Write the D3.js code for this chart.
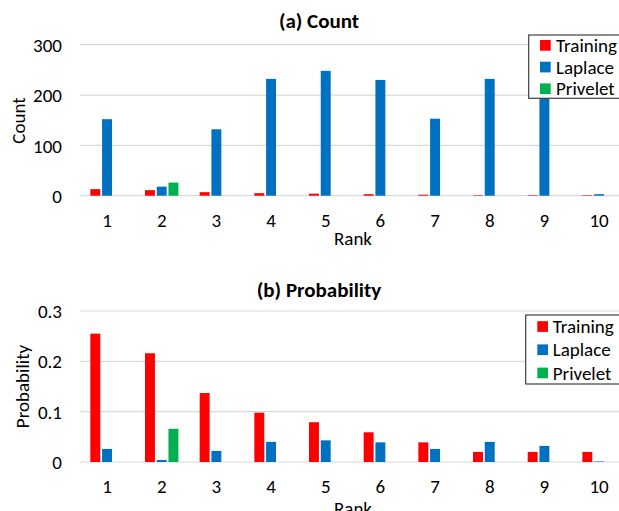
<!DOCTYPE html>
<html><head><meta charset="utf-8">
<script src="https://cdn.jsdelivr.net/npm/d3@7"></script>
<style>
html,body{margin:0;padding:0;background:#fff;overflow:hidden}
text{font-family:Carlito,Calibri,Lato,sans-serif;fill:#000}
</style></head>
<body>
<svg id="chart" width="619" height="511"></svg>
<script>
const ranks = ["1","2","3","4","5","6","7","8","9","10"];
const seriesNames = ["Training","Laplace","Privelet"];
const colors = ["#ff0000","#0070c0","#00b050"];

// (a) Count
const countTraining = [13,11,7,5,4,3,2,1,1,1];
const countLaplace  = [152,18,132,232,248,230,153,232,197,3];
const countPrivelet = [0,26,0,0,0,0,0,0,0,0];
const countTicks = [0,100,200,300];

// (b) Probability
const probTraining = [0.255,0.216,0.137,0.098,0.079,0.059,0.039,0.020,0.020,0.020];
const probLaplace  = [0.026,0.004,0.022,0.040,0.043,0.039,0.026,0.040,0.032,0.001];
const probPrivelet = [0,0.066,0,0,0,0,0,0,0,0];
const probTicks = [0,0.1,0.2,0.3];

const svg = d3.select("#chart");
const FS = 19;
const FT = 21;

const x0 = d3.scaleBand().domain(ranks).range([79.7, 626.4]).paddingInner(0).paddingOuter(0);
const groupW = 35.2;
const x1 = d3.scaleBand().domain(seriesNames)
  .range([(x0.bandwidth()-groupW)/2, (x0.bandwidth()+groupW)/2]).padding(0);

function panel(opts){
  const {values, ticks, y0, y1, max, tickFmt, title, titleY, yLabel, yLabelX, yLabelY, rankY, legend} = opts;
  const y = d3.scaleLinear().domain([0, max]).range([y0, y1]);
  const g = svg.append("g");

  const yAxis = d3.axisLeft(y).tickValues(ticks).tickSize(0).tickPadding(0).tickFormat(tickFmt);
  const ga = g.append("g").attr("transform","translate(62,0)").call(yAxis);
  ga.select(".domain").remove();
  ga.selectAll("text").attr("font-size",FS).attr("dy","0.35em").style("font-family","Carlito,Calibri,Lato,sans-serif").attr("fill","#000");

  g.append("g").selectAll("line").data(ticks).join("line")
    .attr("x1",80).attr("x2",640)
    .attr("y1",d=>y(d)).attr("y2",d=>y(d))
    .attr("stroke","#d9d9d9").attr("stroke-width",1.2);

  const data = ranks.map((r,i)=>({rank:r, vals:seriesNames.map((s,k)=>({s, k, v:values[k][i]}))}));
  const gg = g.append("g").selectAll("g").data(data).join("g")
    .attr("transform",d=>`translate(${x0(d.rank)},0)`);
  gg.selectAll("rect").data(d=>d.vals.filter(v=>v.v>0)).join("rect")
    .attr("x",d=>x1(d.s)+0.9)
    .attr("width",x1.bandwidth()-1.8)
    .attr("y",d=>y(d.v))
    .attr("height",d=>y(0)-y(d.v))
    .attr("fill",d=>colors[d.k]);

  const xAxis = d3.axisBottom(x0).tickSize(0).tickPadding(0);
  const gx = g.append("g").attr("transform",`translate(0,${y0+31})`).call(xAxis);
  gx.select(".domain").remove();
  gx.selectAll("text").attr("font-size",FS).attr("dy","0").style("font-family","Carlito,Calibri,Lato,sans-serif").attr("fill","#000");

  g.append("text").attr("x",319).attr("y",titleY).attr("text-anchor","middle")
    .attr("font-size",FT).attr("font-weight","bold").text(title);
  g.append("text").attr("x",353).attr("y",rankY).attr("text-anchor","middle")
    .attr("font-size",FS).text("Rank");
  g.append("text").attr("transform",`translate(${yLabelX},${yLabelY}) rotate(-90)`)
    .attr("text-anchor","middle").attr("font-size",FS).text(yLabel);

  const lg = g.append("g");
  lg.append("rect").attr("x",legend.x).attr("y",legend.y).attr("width",120).attr("height",legend.h)
    .attr("fill","#fff").attr("stroke","#3f3f3f").attr("stroke-width",1.2);
  seriesNames.forEach((s,k)=>{
    const cy = legend.y0 + k*legend.dy;
    lg.append("rect").attr("x",legend.sx).attr("y",cy-5.3).attr("width",10.7).attr("height",10.7).attr("fill",colors[k]);
    lg.append("text").attr("x",legend.tx).attr("y",cy).attr("dy","0.35em").attr("font-size",FS).text(s);
  });
}

panel({
  values:[countTraining,countLaplace,countPrivelet], ticks:countTicks,
  y0:195.7, y1:44.7, max:300, tickFmt:d3.format("d"),
  title:"(a) Count", titleY:28, yLabel:"Count", yLabelX:25, yLabelY:120.5, rankY:245,
  legend:{x:528.7,y:35,h:63.3,sx:540,tx:556,y0:45.3,dy:21.7}
});
panel({
  values:[probTraining,probLaplace,probPrivelet], ticks:probTicks,
  y0:462, y1:311, max:0.3, tickFmt:d=>d===0?"0":d3.format(".1f")(d),
  title:"(b) Probability", titleY:296.5, yLabel:"Probability", yLabelX:29, yLabelY:386.5, rankY:515,
  legend:{x:525.7,y:315,h:69,sx:537.3,tx:552.7,y0:326.5,dy:23.2}
});
</script>
</body></html>
